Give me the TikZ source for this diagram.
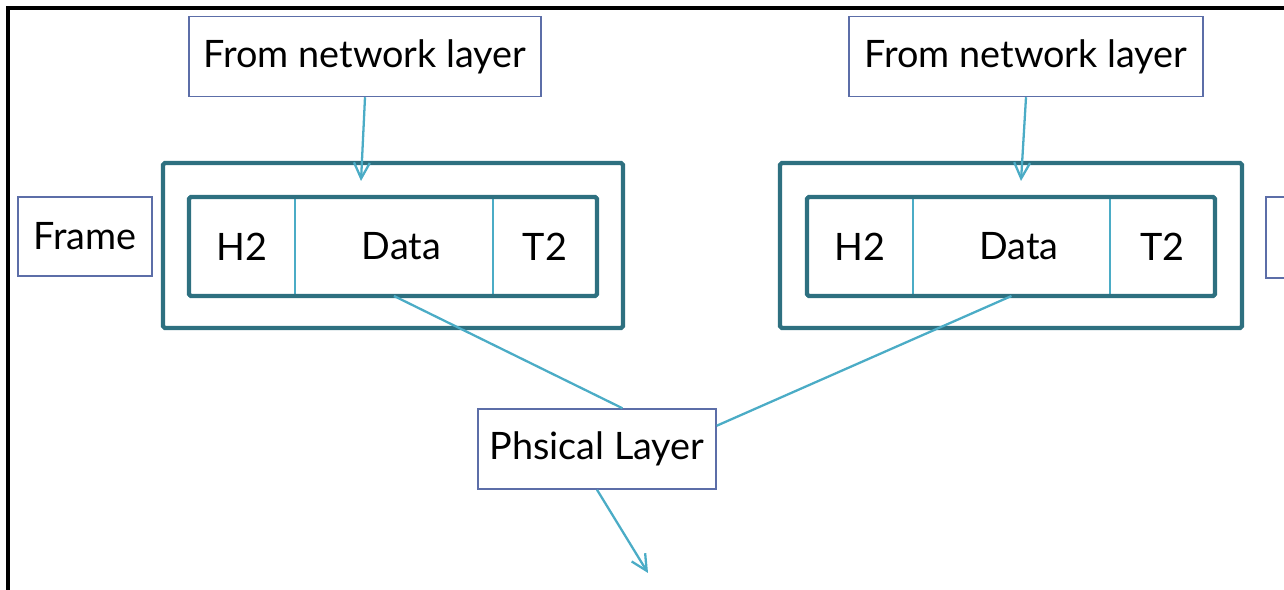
\documentclass[tikz,border=0pt]{standalone}
\usepackage{fontspec}
\setmainfont{Lato}
\usetikzlibrary{arrows.meta, positioning, fit}
\definecolor{boxblue}{RGB}{92,110,168}
\definecolor{frameteal}{RGB}{46,112,128}
\definecolor{linkteal}{RGB}{75,172,198}
\tikzstyle{layerbox} = [rectangle, draw=boxblue, line width=0.85pt, fill=white, text centered, minimum height=1.6cm, font=\fontsize{21.5}{25}\selectfont]
\tikzstyle{cell} = [rectangle, draw=linkteal, line width=0.8pt, minimum height=1.98cm, inner sep=0pt, outer sep=0pt, font=\fontsize{21.5}{25}\selectfont]
\tikzstyle{framebox} = [rectangle, draw=frameteal, line width=2.4pt, rounded corners=1pt]
\tikzstyle{link} = [draw=linkteal, line width=1.3pt]
\tikzstyle{arrow} = [link, -{Straight Barb[length=9pt,width=9pt]}]

\begin{document}
\begin{tikzpicture}[x=0.02cm, y=-0.02cm]

\useasboundingbox (0,0) rectangle (1284,590);
\clip (0,0) rectangle (1284,590);

% Slide border
\draw[line width=2.2pt] (8,600) |- (1300,8);

% LEFT FRAME
\node[layerbox, minimum width=7.04cm] (neta) at (365,56.5) {From network layer};
\node[layerbox, minimum width=2.68cm, minimum height=1.58cm] (framea) at (85,236.5) {Frame};

\node[framebox, minimum width=9.2cm, minimum height=3.3cm] (outera) at (393,245.5) {};
\node[cell, minimum width=2.12cm] (h2a) at (242,246.5) {H2};
\node[cell, minimum width=3.96cm, right=0pt of h2a] (dataa) {\hspace{0.3cm}Data};
\node[cell, minimum width=2.08cm, right=0pt of dataa] (t2a) {T2};
\node[framebox, fit=(h2a)(t2a), inner sep=0pt] (innera) {};

% RIGHT FRAME
\node[layerbox, minimum width=7.08cm] (netb) at (1026,56.5) {From network layer};
\node[layerbox, minimum width=2.68cm, minimum height=1.62cm] (frameb) at (1333,237.5) {};

\node[framebox, minimum width=9.24cm, minimum height=3.3cm] (outerb) at (1011,245.5) {};
\node[cell, minimum width=2.12cm] (h2b) at (860,246.5) {H2};
\node[cell, minimum width=3.94cm, right=0pt of h2b] (datab) {\hspace{0.3cm}Data};
\node[cell, minimum width=2.1cm, right=0pt of datab] (t2b) {T2};
\node[framebox, fit=(h2b)(t2b), inner sep=0pt] (innerb) {};

% Physical layer
\node[layerbox, minimum width=4.76cm] (phys) at (597,449) {Phsical Layer};

% Connectors
\coordinate (tipa) at (361,181);
\coordinate (tipb) at (1021,181);
\coordinate (tipc) at (648,573);
\draw[arrow] (neta.south) -- (tipa);
\draw[arrow] (netb.south) -- (tipb);
\draw[link] (dataa.south) -- (phys.58);
\draw[link] (datab.south) -- (phys.11);
\draw[arrow] (phys.south) -- (tipc);

\end{tikzpicture}
\end{document}
